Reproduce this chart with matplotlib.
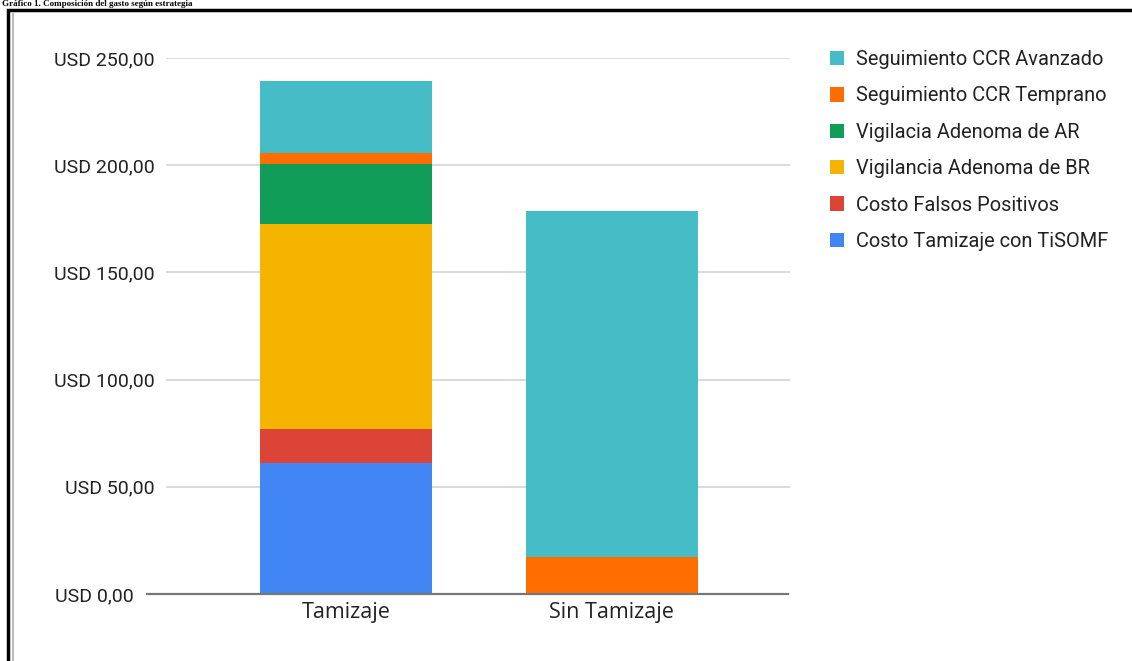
import matplotlib
matplotlib.use("Agg")
import matplotlib.pyplot as plt
from matplotlib.patches import Rectangle
from matplotlib.lines import Line2D
import numpy as np

categories = ["Tamizaje", "Sin Tamizaje"]
series_names = [
    "Costo Tamizaje con TiSOMF",
    "Costo Falsos Positivos",
    "Vigilancia Adenoma de BR",
    "Vigilacia Adenoma de AR",
    "Seguimiento CCR Temprano",
    "Seguimiento CCR Avanzado",
]
costo_tamizaje = [61.2, 0.0]
falsos_positivos = [15.6, 0.0]
adenoma_br = [95.6, 0.0]
adenoma_ar = [28.3, 0.0]
ccr_temprano = [5.1, 17.4]
ccr_avanzado = [33.6, 161.4]
y_ticks = [0, 50, 100, 150, 200, 250]

colors = ["#4285F4", "#DB4437", "#F4B400", "#0F9D58", "#FF6D01", "#46BDC6"]
values = [costo_tamizaje, falsos_positivos, adenoma_br, adenoma_ar, ccr_temprano, ccr_avanzado]

W, H = 1132, 661
fig = plt.figure(figsize=(W / 100, H / 100), dpi=100)
ax = fig.add_axes([166 / W, 1 - 594 / H, 624 / W, (594 - 58) / H])

x = np.arange(len(categories))
bottom = np.zeros(len(categories))
handles = []
for name, vals, col in zip(series_names, values, colors):
    vals = np.array(vals)
    b = ax.bar(x, vals, width=0.648, bottom=bottom, color=col, label=name, zorder=2)
    handles.append(b)
    bottom += vals

ax.set_xlim(-0.678, 1.672)
ax.set_ylim(0, 250)
ax.set_yticks(y_ticks)
ax.set_yticklabels([f"USD {v},00" for v in y_ticks], fontfamily="Roboto", fontsize=14, color="#222222")
ax.set_xticks(x)
ax.set_xticklabels(categories, fontfamily="Open Sans", fontsize=15.5, color="#222222")
ax.tick_params(axis="y", length=0, pad=8)
ax.tick_params(axis="x", length=0, pad=6)
ax.yaxis.get_major_ticks()[0].set_pad(23)
ax.grid(axis="y", color="#d4d4d4", linewidth=1.2, zorder=0)
ax.set_axisbelow(True)
for s in ax.spines.values():
    s.set_visible(False)

# baseline, a bit longer to the left like the original
ax.add_line(Line2D([-(166 - 147) / 624, (788 - 166) / 624], [0, 0], transform=ax.transAxes,
                   color="#777777", linewidth=1.6, clip_on=False, zorder=3))

leg = fig.legend(handles[::-1], series_names[::-1], loc="upper left",
                 bbox_to_anchor=(830 / W, 1 - 50 / H), frameon=False,
                 prop={"family": "Roboto", "size": 14.4}, handlelength=0.72,
                 handleheight=0.72, handletextpad=0.6, labelspacing=0.87,
                 borderaxespad=0, borderpad=0)
for t in leg.get_texts():
    t.set_color("#222222")

# frame around the pasted screenshot
fig.patches.append(Rectangle((8 / W, -0.1), 1.2, 1 - 10 / H + 0.1, transform=fig.transFigure,
                             fill=False, edgecolor="black", linewidth=2.5))
fig.lines.append(Line2D([13 / W, 13 / W], [0, 1 - 14 / H], transform=fig.transFigure,
                        color="#bbbbbb", linewidth=1.5))

# page caption above the frame (cropped in the source)
fig.text(2 / W, 1 - 0.5 / H, "Gráfico 1. Composición del gasto según estrategia",
         fontfamily="Liberation Serif", fontweight="bold", fontsize=6.5, va="top")

fig.savefig("out.png", dpi=100)
